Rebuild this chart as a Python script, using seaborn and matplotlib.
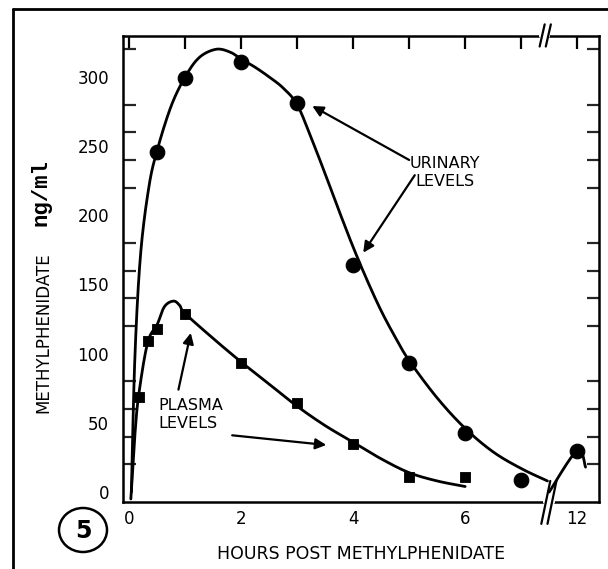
import numpy as np
import pandas as pd
import matplotlib.pyplot as plt
import seaborn as sns
from matplotlib.lines import Line2D
from matplotlib.patches import Ellipse

# Số liệu (giờ sau khi uống, ng/ml)
urine_hours = [0.5, 1, 2, 3, 4, 5, 6, 7, 12]
urine_ng = [246, 299, 311, 281, 164, 93, 43, 9, 30]
plasma_hours = [0.17, 0.33, 0.5, 1, 2, 3, 4, 5, 6]
plasma_ng = [69, 109, 118, 129, 93, 64, 35, 11, 11]

# Đường cong vẽ tay (các nút)
urine_fit_hours = [0.04, 0.1, 0.2, 0.35, 0.5, 0.75, 1.0, 1.25, 1.55, 1.8, 2.0, 2.25, 2.5,
                   2.75, 3.0, 3.25, 3.5, 3.75, 4.0, 4.25, 4.5, 4.75, 5.0, 5.5, 6.0, 6.5,
                   7.0, 9.35]
urine_fit_ng = [0, 95, 170, 220, 247, 279, 300, 314, 320, 318, 313, 307, 300,
                292, 280, 256, 230, 203, 177, 153, 131, 112, 95, 68, 46, 29,
                17, 8]
urine_tail_hours = [9.5, 12, 12.75]
urine_tail_ng = [0, 30, 18]
plasma_fit_hours = [0.03, 0.1, 0.17, 0.33, 0.5, 0.63, 0.79, 0.9, 1.0, 1.5, 2.0, 2.5, 3.0,
                    3.5, 4.0, 4.5, 5.0, 5.5, 6.0]
plasma_fit_ng = [-5, 40, 70, 108, 121, 134, 138, 135, 129, 111, 94, 78, 62,
                 48, 36, 24, 14, 8, 4]

x_tick_hours = [0, 1, 2, 3, 4, 5, 6, 7, 12]
x_tick_labels = ['0', '', '2', '', '4', '', '6', '', '12']
y_tick_labels = [0, 50, 100, 150, 200, 250, 300]


def to_axis(h):
    # trục bị cắt sau 7 giờ: 12 giờ nằm ở vị trí 8
    h = np.asarray(h, dtype=float)
    return np.where(h <= 7, h, 7 + (h - 7) * 0.2)


def smooth(xs, ys, n=25):
    p = np.column_stack([xs, ys])
    p = np.vstack([p[0], p, p[-1]])
    t = np.linspace(0, 1, n, endpoint=False)[:, None]
    out = []
    for i in range(1, len(p) - 2):
        p0, p1, p2, p3 = p[i - 1], p[i], p[i + 1], p[i + 2]
        out.append(0.5 * (2 * p1 + (-p0 + p2) * t + (2 * p0 - 5 * p1 + 4 * p2 - p3) * t ** 2
                          + (-p0 + 3 * p1 - 3 * p2 + p3) * t ** 3))
    out.append(p[-2][None])
    return np.vstack(out)


sns.set_theme(style='white')
plt.rcParams['font.family'] = ['DejaVu Sans']

fig = plt.figure(figsize=(6.08, 5.69), dpi=100)
ax = fig.add_axes([123 / 608, 1 - 502 / 569, 476 / 608, 466 / 569])

urine = pd.DataFrame({'pos': to_axis(urine_hours), 'ng': urine_ng})
plasma = pd.DataFrame({'pos': to_axis(plasma_hours), 'ng': plasma_ng})

u = smooth(to_axis(urine_fit_hours), urine_fit_ng)
ut = smooth(to_axis(urine_tail_hours), urine_tail_ng, n=8)
pl = smooth(to_axis(plasma_fit_hours), plasma_fit_ng)
for arr in (u, ut, pl):
    sns.lineplot(x=arr[:, 0], y=arr[:, 1], sort=False, estimator=None, color='black',
                 linewidth=2.0, ax=ax)

sns.scatterplot(data=urine, x='pos', y='ng', marker='o', s=110, color='black',
                edgecolor='black', ax=ax, zorder=5)
sns.scatterplot(data=plasma, x='pos', y='ng', marker='s', s=60, color='black',
                edgecolor='black', ax=ax, zorder=5)

ax.set_xlim(-0.11, 8.39)
ax.set_ylim(-7.2, 329.6)
ax.set_xticks(to_axis(x_tick_hours))
ax.set_xticklabels(x_tick_labels)
ax.set_yticks(y_tick_labels)
ax.set_yticks(np.arange(0, 330, 20), minor=True)
ax.tick_params(axis='x', which='major', direction='in', length=9, width=1.6, top=True,
               labelsize=12, pad=6, colors='black')
ax.tick_params(axis='y', which='major', length=0, labelsize=12, pad=10, colors='black')
ax.tick_params(axis='y', which='minor', direction='in', length=9, width=1.6, left=True,
               right=True)
for sp in ax.spines.values():
    sp.set_linewidth(1.8)
    sp.set_color('black')
ax.set_xlabel('HOURS POST METHYLPHENIDATE', fontsize=12.5, labelpad=12, color='black')
ax.set_ylabel('')

# chỗ cắt trục (//)
ax.plot([7.42, 7.56], [-7.2, -7.2], color='white', linewidth=3, clip_on=False, zorder=6)
ax.plot([7.36, 7.48], [329.6, 329.6], color='white', linewidth=3, clip_on=False, zorder=6)
for dx in (0.0, 0.11):
    ax.plot([7.36 + dx, 7.52 + dx], [-23, 8], color='black', linewidth=1.6,
            clip_on=False, zorder=7)
    ax.plot([7.33 + dx, 7.42 + dx], [322, 338], color='black', linewidth=1.6,
            clip_on=False, zorder=7)

# chú thích
arrow = dict(arrowstyle='-|>', color='black', lw=1.6, mutation_scale=16, shrinkA=0, shrinkB=0)
ax.text(5.64, 231, 'URINARY\nLEVELS', ha='center', va='center', fontsize=11.5,
        linespacing=1.25, color='black')
ax.annotate('', xy=(3.27, 279), xytext=(5.0, 240), arrowprops=arrow)
ax.annotate('', xy=(4.18, 173), xytext=(5.1, 229), arrowprops=arrow)
ax.text(0.52, 56, 'PLASMA\nLEVELS', ha='left', va='center', fontsize=11.5,
        linespacing=1.25, color='black')
ax.annotate('', xy=(1.1, 115), xytext=(0.88, 74), arrowprops=arrow)
ax.annotate('', xy=(3.52, 34), xytext=(1.84, 41), arrowprops=arrow)

# nhãn trục y
fig.text(43 / 608, 1 - 333 / 569, 'METHYLPHENIDATE', rotation=90, ha='center', va='center',
         fontsize=12, color='black')
fig.text(41 / 608, 1 - 193 / 569, 'ng/ml', rotation=90, ha='center', va='center',
         fontsize=16, family=['Liberation Mono', 'DejaVu Sans Mono'], weight='bold',
         color='black')

# khung ngoài và số hình
fig.add_artist(Line2D([13 / 608, 1], [1 - 9 / 569] * 2, color='black', linewidth=2))
fig.add_artist(Line2D([13 / 608] * 2, [0, 1 - 9 / 569], color='black', linewidth=2))
fig.add_artist(Ellipse((83 / 608, 1 - 530 / 569), 48 / 608, 44 / 569, fill=False,
                       edgecolor='black', linewidth=1.8, transform=fig.transFigure))
fig.text(83 / 608, 1 - 531 / 569, '5', ha='center', va='center', fontsize=17,
         weight='bold', color='black')

fig.savefig('out.png', dpi=100)
